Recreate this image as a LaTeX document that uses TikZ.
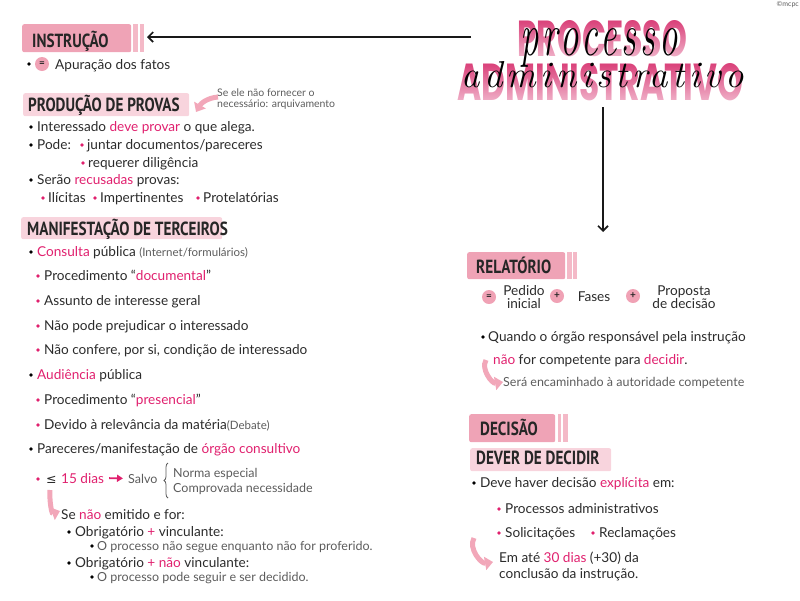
\documentclass[tikz,border=0pt]{standalone}
\usepackage{fontspec}
\usepackage{graphicx}
\setmainfont{Lato}
\newfontfamily\hfont{PT Sans}
\newfontfamily\tfont{Poppins}
\newfontfamily\lmfont{Latin Modern Roman}[LetterSpace=12]
\newfontfamily\symfont{DejaVu Sans}
\usetikzlibrary{arrows.meta,fadings,decorations.pathreplacing}
\definecolor{pk}{HTML}{E0206E}
\definecolor{hdrc}{HTML}{EFA3B6}
\definecolor{barc}{HTML}{F4B9C7}
\definecolor{ltc}{HTML}{F8D4DD}
\definecolor{arwc}{HTML}{F2A7B9}
\definecolor{circc}{HTML}{F0A2B5}
\definecolor{grayc}{HTML}{5C5C5C}
\definecolor{bodyc}{HTML}{2B2B2B}
\definecolor{headc}{HTML}{262626}
\definecolor{titlec}{HTML}{D93A75}
\tikzfading[name=titlefade, top color=transparent!100, bottom color=transparent!40]
\newcommand\bb[2]{\fill[black] (#1,#2) circle (1.8);}
\newcommand\pb[2]{\fill[pk] (#1,#2) circle (1.8);}
\newcommand\pkt[1]{{\color{pk}#1}}
\begin{document}
\begin{tikzpicture}[x=1pt,y=-1pt,
  tx/.style={anchor=base west, inner sep=0pt, font=\fontsize{13.6}{16}\selectfont, text=bodyc},
  txc/.style={tx, anchor=base},
  gtx/.style={tx, font=\fontsize{12.5}{15}\selectfont, text=grayc},
  note/.style={tx, font=\fontsize{10.5}{12}\selectfont, text=grayc},
  hd/.style={anchor=base west, inner sep=0pt, font=\hfont\bfseries\fontsize{19}{19}\selectfont, text=headc},
  hbox/.style={fill=hdrc, rounded corners=2pt, anchor=north west, inner sep=0pt},
  lbox/.style={fill=ltc, rounded corners=2pt, anchor=north west, inner sep=0pt},
  circ/.style={circle, fill=circc, minimum size=14pt, inner sep=0pt, font=\bfseries\fontsize{10}{10}\selectfont, text=headc},
  blk/.style={draw=black!90, line width=1.7pt, -{Straight Barb[length=5pt,width=10pt,line width=1.7pt]}},
  fat/.style={draw=arwc, line width=5pt, -{Triangle[length=8pt,width=13pt]}},
]
\useasboundingbox (0,0) rectangle (800,600);

% ---------- title ----------
\node[anchor=north west, inner sep=0pt] (tP) at (517,20) {\resizebox{170pt}{36pt}{\color{titlec}\tfont\bfseries PROCESSO}};
\node[anchor=north west, inner sep=0pt] (tA) at (457,63) {\resizebox{286pt}{37pt}{\color{titlec}\tfont\bfseries ADMINISTRATIVO}};
\fill[white, path fading=titlefade] (514,18) rectangle (690,57);
\fill[white, path fading=titlefade] (454,61) rectangle (746,101);
\node[anchor=north west, inner sep=0pt] (cP) at (520,28) {\resizebox{158pt}{27pt}{\lmfont\itshape\fontsize{40}{40}\selectfont processo}};
\node[anchor=north west, inner sep=0pt] (cA) at (461,61) {\resizebox{283pt}{26pt}{\lmfont\itshape\fontsize{40}{40}\selectfont administrativo}};
\node[anchor=north east, inner sep=1pt, font=\fontsize{7}{8}\selectfont, text=grayc] (copy) at (800,0) {©mcpc};

% main arrows
\coordinate (hs) at (471,37);
\coordinate (he) at (147,37);
\draw[blk] (hs) -- (he);
\coordinate (vs) at (603,107);
\coordinate (ve) at (603,232);
\draw[blk] (vs) -- (ve);

% ---------- INSTRUCAO ----------
\node[hbox, minimum width=109pt, minimum height=28pt] (bInstr) at (22,24) {};
\fill[barc] (133,24) rectangle (138,52);
\fill[barc] (140,24) rectangle (144,52);
\node[hd] (hInstr) at (32,47) {\scalebox{0.8}[1]{INSTRUÇÃO}};
\bb{29}{64}
\node[circ] (eq1) at (42,64) {=};
\node[tx] (apur) at (55,69) {Apuração dos fatos};

% ---------- PRODUCAO DE PROVAS ----------
\node[lbox, minimum width=166pt, minimum height=23pt] (bProd) at (23,93) {};
\node[hd] (hProd) at (28,111) {\scalebox{0.8}[1]{PRODUÇÃO DE PROVAS}};
\node[note] (n1a) at (217,96) {Se ele não fornecer o};
\node[note] (n1b) at (217,107) {necessário: arquivamento};
\coordinate (a1s) at (218,97);
\coordinate (a1e) at (196,112);
\draw[fat] (a1s) to[out=185,in=60] (a1e);

\bb{31}{127}
\node[tx] (p1) at (37,131) {Interessado \pkt{deve provar} o que alega.};
\bb{31}{145}
\node[tx] (p2) at (37,149) {Pode:};
\pb{82}{145}
\node[tx] (p2b) at (87,149) {juntar documentos/pareceres};
\pb{83}{163}
\node[tx] (p3) at (88,167) {requerer diligência};
\bb{31}{180}
\node[tx] (p4) at (37,184) {Serão \pkt{recusadas} provas:};
\pb{43}{198}
\node[tx] (p5a) at (48,202) {Ilícitas};
\pb{95}{198}
\node[tx] (p5b) at (100,202) {Impertinentes};
\pb{198}{198}
\node[tx] (p5c) at (203,202) {Protelatórias};

% ---------- MANIFESTACAO DE TERCEIROS ----------
\node[lbox, minimum width=201pt, minimum height=22pt] (bMan) at (21,217) {};
\node[hd] (hMan) at (27,235) {\scalebox{0.8}[1]{MANIFESTAÇÃO DE TERCEIROS}};
\bb{31}{252}
\node[tx] (m1) at (37,256) {\pkt{Consulta} pública {\color{grayc}\fontsize{11.5}{13}\selectfont(Internet/formulários)}};
\pb{38}{276}
\node[tx] (m2) at (44,280) {Procedimento “\pkt{documental}”};
\pb{38}{301}
\node[tx] (m3) at (44,305) {Assunto de interesse geral};
\pb{38}{326}
\node[tx] (m4) at (44,330) {Não pode prejudicar o interessado};
\pb{38}{350}
\node[tx] (m5) at (44,354) {Não confere, por si, condição de interessado};
\bb{31}{375}
\node[tx] (m6) at (37,379) {\pkt{Audiência} pública};
\pb{38}{400}
\node[tx] (m7) at (44,404) {Procedimento “\pkt{presencial}”};
\pb{38}{425}
\node[tx] (m8) at (44,429) {Devido à relevância da matéria{\color{grayc}\fontsize{11.5}{13}\selectfont(Debate)}};
\bb{31}{449}
\node[tx] (m9) at (37,453) {Pareceres/manifestação de \pkt{órgão consultivo}};
\pb{38}{479}
\node[tx] (le) at (46,483) {\symfont\fontsize{12.5}{14}\selectfont ≤};
\node[tx, text=pk] (d15) at (61,483) {15 dias};
\node[gtx] (salvo) at (128,483) {Salvo};
\draw[pk, line width=1.8pt, -{Triangle[length=6pt,width=7pt]}, shorten <=5pt, shorten >=5pt] (d15.east) -- (salvo.west);
\draw[grayc, line width=0.8pt, decorate, decoration={brace, amplitude=4pt}] (168,498) -- (168,463);
\node[gtx] (norma) at (173,477) {Norma especial};
\node[gtx] (compr) at (173,492) {Comprovada necessidade};
\coordinate (a2s) at (50,490);
\coordinate (a2e) at (60,511);
\draw[fat] (a2s) to[out=-95,in=200] (a2e);
\node[tx] (se) at (61,519) {Se \pkt{não} emitido e for:};
\bb{69}{532}
\node[tx] (ob1) at (75,536) {Obrigatório \pkt{+} vinculante:};
\bb{92}{546}
\node[gtx] (ob1b) at (97,550) {O processo não segue enquanto não for proferido.};
\bb{69}{563}
\node[tx] (ob2) at (75,567) {Obrigatório \pkt{+ não} vinculante:};
\bb{92}{577}
\node[gtx] (ob2b) at (97,581) {O processo pode seguir e ser decidido.};

% ---------- RELATORIO ----------
\node[hbox, minimum width=98pt, minimum height=27pt] (bRel) at (467,252) {};
\fill[barc] (567,252) rectangle (572,279);
\fill[barc] (573,252) rectangle (577,279);
\node[hd] (hRel) at (476,273) {\scalebox{0.8}[1]{RELATÓRIO}};
\node[circ] (c1) at (489,297) {=};
\node[circ] (c2) at (557,296) {+};
\node[circ] (c3) at (633,296) {+};
\node[txc] (ped1) at (524,295) {Pedido};
\node[txc] (ped2) at (524,308) {inicial};
\node[txc] (fas) at (594,301) {Fases};
\node[txc] (pro1) at (684,295) {Proposta};
\node[txc] (pro2) at (684,308) {de decisão};
\bb{483}{337}
\node[tx] (q1) at (488,341) {Quando o órgão responsável pela instrução};
\node[tx] (q2) at (493,364) {\pkt{não} for competente para \pkt{decidir}.};
\coordinate (a3s) at (486,360);
\coordinate (a3e) at (503,382);
\draw[fat] (a3s) to[out=-120,in=190] (a3e);
\node[gtx] (q3) at (503,386) {Será encaminhado à autoridade competente};

% ---------- DECISAO ----------
\node[hbox, minimum width=86pt, minimum height=28pt] (bDec) at (469,414) {};
\fill[barc] (558,414) rectangle (561,442);
\fill[barc] (563,414) rectangle (568,442);
\node[hd] (hDec) at (480,435) {\scalebox{0.8}[1]{DECISÃO}};
\node[lbox, minimum width=141pt, minimum height=23pt] (bDev) at (470,448) {};
\node[hd] (hDev) at (476,464) {\scalebox{0.8}[1]{DEVER DE DECIDIR}};
\bb{474}{483}
\node[tx] (d1) at (480,487) {Deve haver decisão \pkt{explícita} em:};
\pb{499}{509}
\node[tx] (d2) at (505,513) {Processos administrativos};
\pb{499}{533}
\node[tx] (d3) at (505,537) {Solicitações};
\pb{593}{533}
\node[tx] (d4) at (599,537) {Reclamações};
\coordinate (a4s) at (474,538);
\coordinate (a4e) at (493,562);
\draw[fat] (a4s) to[out=-120,in=190] (a4e);
\node[tx] (d5) at (499,562) {Em até \pkt{30 dias} (+30) da};
\node[tx] (d6) at (499,578) {conclusão da instrução.};
\end{tikzpicture}
\end{document}
